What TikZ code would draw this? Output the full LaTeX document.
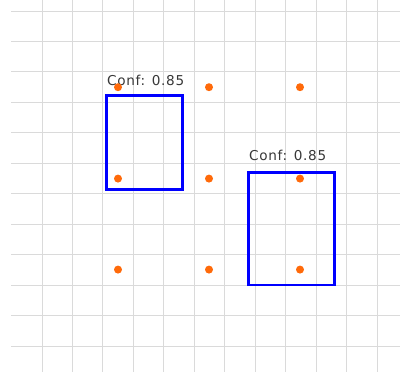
\documentclass[tikz,border=0pt]{standalone}
\usepackage{fontspec}
\newfontfamily\labfont[LetterSpace=5]{DejaVu Sans}
\definecolor{gridc}{HTML}{DADADA}
\definecolor{dotc}{HTML}{FF6A0A}
\definecolor{boxc}{HTML}{0000FF}
\definecolor{txtc}{HTML}{383838}
\tikzset{
  gridline/.style={draw=gridc, line width=0.9pt},
  detbox/.style={draw=boxc, line width=2.8pt, inner sep=0pt, outer sep=0pt, line join=miter},
  kpt/.style={circle, fill=dotc, inner sep=0pt, minimum size=8pt},
  conflabel/.style={anchor=base west, inner sep=0pt, text=txtc, font=\labfont\fontsize{13.6}{13.6}\selectfont}
}
\begin{document}
\begin{tikzpicture}[x=1pt, y=-1pt]
\useasboundingbox (0,0) rectangle (400,372);
\fill[white] (0,0) rectangle (400,372);
% grid
\foreach \i in {0,...,11} {
  \draw[gridline] ({42+30.45*\i},0) -- ({42+30.45*\i},372);
  \draw[gridline] (11,{11+30.45*\i}) -- (400,{11+30.45*\i});
}
% labels
\node[conflabel] (l1) at (107,85.3) {Conf: 0.85};
\node[conflabel] (l2) at (249,160.7) {Conf: 0.85};
% boxes
\node[detbox, minimum width=75.8pt, minimum height=93.6pt] (b1) at (144.6,142.5) {};
\node[detbox, minimum width=86pt, minimum height=112.5pt] (b2) at (291.5,228.75) {};
% keypoints
\foreach \c [count=\ci] in {118,209,300} {
  \foreach \r [count=\ri] in {87.2,178.6,269.6} {
    \node[kpt] (p\ci\ri) at (\c,\r) {};
  }
}
\end{tikzpicture}
\end{document}
